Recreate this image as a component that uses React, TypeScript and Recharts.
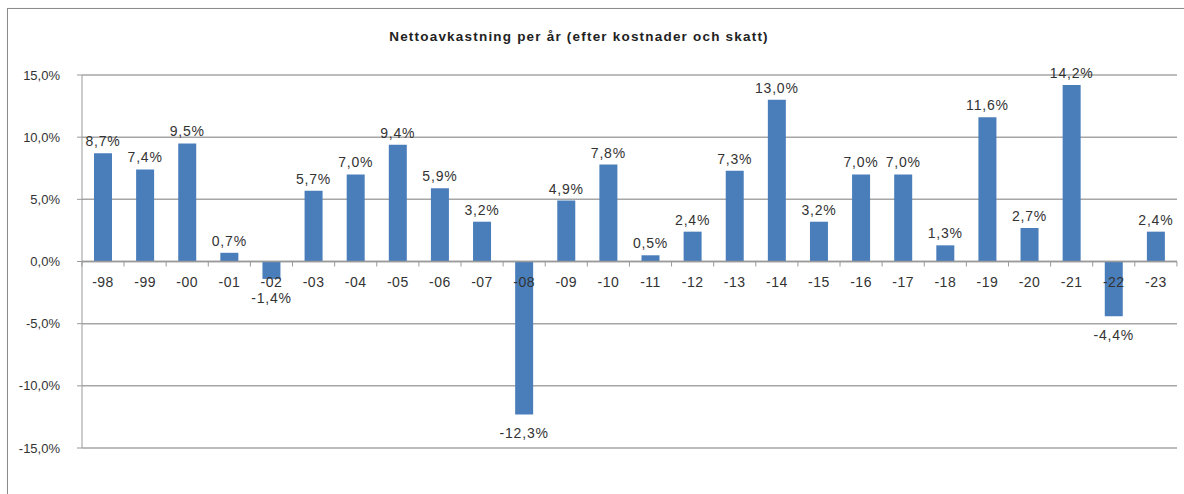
import { BarChart, Bar, XAxis, YAxis, CartesianGrid, LabelList, ReferenceLine } from "recharts";

const years = [
  "-98", "-99", "-00", "-01", "-02", "-03", "-04", "-05", "-06", "-07", "-08", "-09", "-10",
  "-11", "-12", "-13", "-14", "-15", "-16", "-17", "-18", "-19", "-20", "-21", "-22", "-23",
];
const returns = [
  8.7, 7.4, 9.5, 0.7, -1.4, 5.7, 7.0, 9.4, 5.9, 3.2, -12.3, 4.9, 7.8,
  0.5, 2.4, 7.3, 13.0, 3.2, 7.0, 7.0, 1.3, 11.6, 2.7, 14.2, -4.4, 2.4,
];
const yTicks = [-15, -10, -5, 0, 5, 10, 15];

const data = years.map((year, i) => ({ year, value: returns[i] }));

const W = 1184;
const H = 494;
const M = { top: 75, right: 7, bottom: 46, left: 0 };
const plotLeft = 82;
const plotWidth = W - plotLeft - M.right;
const plotHeight = H - M.top - M.bottom;
const zeroY = M.top + plotHeight / 2;
const band = plotWidth / years.length;
const font = "Liberation Sans, Arial, sans-serif";
const textColor = "#333";

const pct = (v: number) => `${v.toFixed(1).replace(".", ",")}%`;

function YearLabel(props: any) {
  const { x, width, value, index } = props;
  const cx = x + width / 2;
  return (
    <g>
      <line x1={cx - band / 2} x2={cx - band / 2} y1={zeroY} y2={zeroY + 5} stroke="#999" />
      {index === years.length - 1 && (
        <line x1={cx + band / 2} x2={cx + band / 2} y1={zeroY} y2={zeroY + 5} stroke="#999" />
      )}
      <text x={cx} y={zeroY + 25} textAnchor="middle" fontSize={14} letterSpacing={0.5} fontFamily={font} fill={textColor}>
        {value}
      </text>
    </g>
  );
}

function ValueLabel(props: any) {
  const { x, y, width, height, value } = props;
  const top = Math.min(y, y + height);
  const bottom = Math.max(y, y + height);
  const cx = x + width / 2;
  const ty = value >= 0 ? top - 7 : bottom + 24;
  return (
    <text x={cx} y={ty} textAnchor="middle" fontSize={14} letterSpacing={0.8} fontFamily={font} fill={textColor}>
      {pct(value)}
    </text>
  );
}

export default function App() {
  return (
    <div style={{ position: "absolute", left: 0, top: 0, width: W, height: H, overflow: "hidden", background: "#fff" }}>
      <div
        style={{
          position: "absolute",
          left: 7,
          top: 8,
          width: 1220,
          height: 520,
          border: "1px solid #8c8c8c",
          boxShadow: "1px 1px 2px #bbb",
        }}
      />
      <div
        style={{
          position: "absolute",
          left: 0,
          top: 29,
          width: 1158,
          textAlign: "center",
          fontFamily: font,
          fontWeight: "bold",
          fontSize: 13.5,
          letterSpacing: 1.2,
          color: "#222",
        }}
      >
        Nettoavkastning per år (efter kostnader och skatt)
      </div>
      <div style={{ position: "absolute", left: 0, top: 0 }}>
        <BarChart width={W} height={H} data={data} margin={M} barCategoryGap={0}>
          <CartesianGrid vertical={false} stroke="#a6a6a6" strokeWidth={1.5} />
          <XAxis dataKey="year" hide />
          <YAxis
            width={plotLeft}
            domain={[-15, 15]}
            ticks={yTicks}
            tickFormatter={pct}
            stroke="#999"
            tickSize={5}
            tickMargin={17}
            tick={{ fontSize: 13, fontFamily: font, fill: textColor }}
          />
          <ReferenceLine y={0} stroke="#999" strokeWidth={1.5} />
          <Bar dataKey="value" fill="#4a7ebb" barSize={18} isAnimationActive={false}>
            <LabelList dataKey="value" content={<ValueLabel />} />
            <LabelList dataKey="year" content={<YearLabel />} />
          </Bar>
        </BarChart>
      </div>
    </div>
  );
}
